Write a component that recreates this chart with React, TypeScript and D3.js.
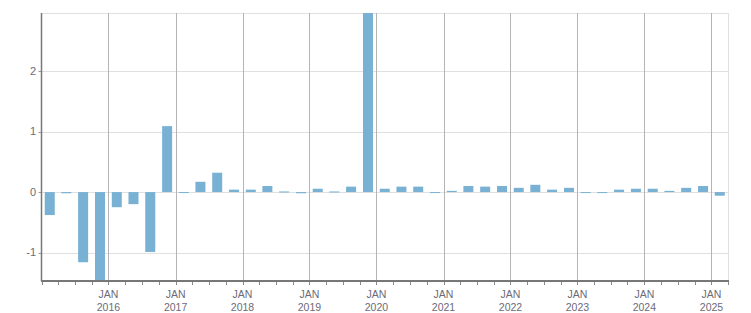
import React from "react";
import * as d3 from "d3";

const quarters: string[] = [];
for (let y = 2015; y <= 2025; y++) for (let q = 1; q <= 4; q++) if (!(y === 2025 && q > 1)) quarters.push(`${y}-Q${q}`);

const values = [
  -0.38, -0.02, -1.16, -1.6,
  -0.25, -0.2, -0.99, 1.09,
  -0.01, 0.17, 0.32, 0.04,
  0.04, 0.1, 0.01, -0.02,
  0.055, 0.01, 0.09, 3.1,
  0.055, 0.09, 0.09, -0.01,
  0.02, 0.1, 0.09, 0.1,
  0.07, 0.12, 0.04, 0.07,
  -0.01, -0.01, 0.04, 0.055,
  0.055, 0.02, 0.07, 0.1,
  -0.06,
];

const yTicks = [-1, 0, 1, 2];
const years = [2016, 2017, 2018, 2019, 2020, 2021, 2022, 2023, 2024, 2025];

const W = 751, H = 313;
const L = 41.5, R = 728, T = 13, B = 281;

function qStart(label: string) {
  const [y, q] = label.split("-Q").map(Number);
  return new Date(y, (q - 1) * 3, 1);
}

export default function App() {
  const x = d3.scaleTime().domain([new Date(2015, 0, 1), new Date(2025, 3, 1)]).range([L, R]);
  const y = d3.scaleLinear().domain([-1.47, 2.96]).range([B, T]);
  const months = d3.timeMonth.every(3)!.range(new Date(2015, 0, 1), new Date(2025, 3, 2));
  const font = "'Liberation Sans', Arial, sans-serif";
  return (
    <div style={{ position: "absolute", left: 0, top: 0 }}>
      <svg width={W} height={H} style={{ display: "block" }}>
        <defs>
          <clipPath id="plot"><rect x={L} y={T} width={R - L} height={B - T} /></clipPath>
        </defs>
        <rect x={0} y={0} width={W} height={H} fill="#fff" />
        {yTicks.map((t) => (
          <line key={t} x1={L} x2={R} y1={Math.round(y(t)) + 0.5} y2={Math.round(y(t)) + 0.5} stroke="#e0e0e0" />
        ))}
        {yTicks.map((t) => (
          <line key={"t" + t} x1={L - 3} x2={L} y1={Math.round(y(t)) + 0.5} y2={Math.round(y(t)) + 0.5} stroke="#999" />
        ))}
        <line x1={L} x2={R} y1={T + 0.5} y2={T + 0.5} stroke="#e0e0e0" />
        <line x1={R + 0.5} x2={R + 0.5} y1={T} y2={B} stroke="#e0e0e0" />
        {years.map((yr) => {
          const xx = Math.round(x(new Date(yr, 0, 1))) + 0.5;
          return <line key={yr} x1={xx} x2={xx} y1={T} y2={B + 4} stroke="#b4b4b4" />;
        })}
        <g clipPath="url(#plot)">
          {quarters.map((q, i) => {
            const s = qStart(q);
            const e = d3.timeMonth.offset(s, 3);
            const cx = (x(s) + x(e)) / 2;
            const v = values[i];
            const y0 = y(0), y1 = y(v);
            return (
              <rect key={q} x={cx - 5} width={10} y={Math.min(y0, y1)} height={Math.max(1, Math.abs(y1 - y0))} fill="#78b1d3" />
            );
          })}
        </g>
        {months.map((m, i) => {
          const xx = Math.round(x(m)) + 0.5;
          return <line key={i} x1={xx} x2={xx} y1={B} y2={B + 4} stroke="#888" />;
        })}
        <line x1={L} x2={L} y1={T} y2={B} stroke="#777" strokeWidth={1.5} />
        <line x1={L - 0.5} x2={R + 1} y1={B} y2={B} stroke="#777" strokeWidth={2} />
        {yTicks.map((t) => (
          <text key={t} x={36} y={y(t)} dy="0.35em" textAnchor="end" fontFamily={font} fontSize={11} fill="#6b6b78">{t}</text>
        ))}
        {years.map((yr) => {
          const xx = x(new Date(yr, 0, 1));
          return (
            <g key={yr} fontFamily={font} fontSize={10.5} fill="#6b6b78" textAnchor="middle">
              <text x={xx} y={298}>JAN</text>
              <text x={xx} y={311}>{yr}</text>
            </g>
          );
        })}
      </svg>
    </div>
  );
}
